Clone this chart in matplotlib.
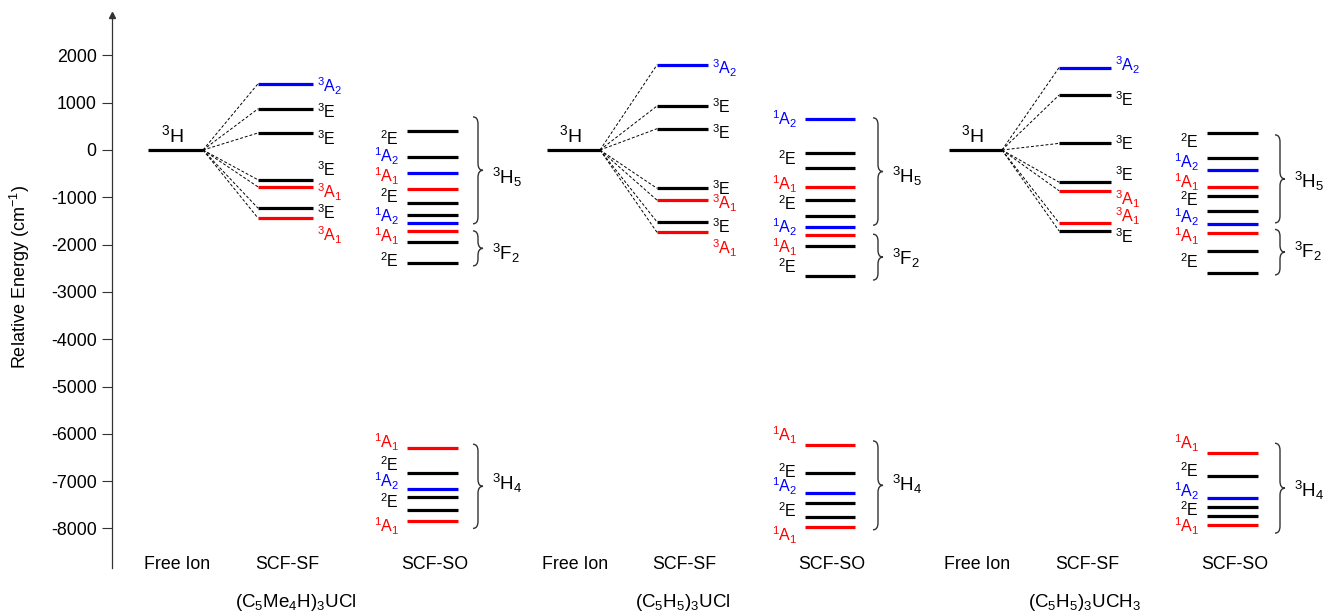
import numpy as np
import matplotlib
matplotlib.use("Agg")
import matplotlib.pyplot as plt
from matplotlib.path import Path
from matplotlib.patches import PathPatch

plt.rcParams['font.family'] = 'Liberation Sans'
plt.rcParams['mathtext.fontset'] = 'custom'
plt.rcParams['mathtext.rm'] = 'Liberation Sans'
plt.rcParams['mathtext.it'] = 'Liberation Sans:italic'
plt.rcParams['mathtext.bf'] = 'Liberation Sans:bold'
plt.rcParams['axes.unicode_minus'] = False

# ---- data (cm-1) ----
compounds = [r'(C$_5$Me$_4$H)$_3$UCl', r'(C$_5$H$_5$)$_3$UCl', r'(C$_5$H$_5$)$_3$UCH$_3$']
columns = ['Free Ion', 'SCF-SF', 'SCF-SO']

# spin-free states
sf_energy = [
    [1400, 870, 360, -630, -780, -1230, -1440],
    [1800, 930, 450, -810, -1060, -1520, -1740],
    [1740, 1160, 140, -680, -860, -1540, -1710],
]
sf_sym = [
    ['A2', 'E', 'E', 'E', 'A1', 'E', 'A1'],
    ['A2', 'E', 'E', 'E', 'A1', 'E', 'A1'],
    ['A2', 'E', 'E', 'E', 'A1', 'A1', 'E'],
]
sf_label_y = [
    [1340, 810, 250, -420, -900, -1330, -1800],
    [1730, 910, 360, -820, -1130, -1620, -2070],
    [1800, 1070, 140, -520, -1050, -1410, -1840],
]

# spin-orbit states (3H5 + 3F2 block)
so_energy = [
    [400, -140, -490, -830, -1110, -1370, -1550, -1720, -1940, -2380],
    [650, -60, -380, -790, -1060, -1390, -1630, -1800, -2020, -2670],
    [350, -175, -420, -775, -970, -1300, -1570, -1750, -2130, -2590],
]
so_sym = [
    ['E', 'E', 'A2', 'A1', 'E', 'E', 'A2', 'A1', 'E', 'E'],
    ['A2', 'E', 'E', 'A1', 'E', 'E', 'A2', 'A1', 'E', 'E'],
    ['E', 'E', 'A2', 'A1', 'E', 'E', 'A2', 'A1', 'E', 'E'],
]
so_labels = [
    ['2E', '1A2', '1A1', '2E', '1A2', '1A1', '2E'],
    ['1A2', '2E', '1A1', '2E', '1A2', '1A1', '2E'],
    ['2E', '1A2', '1A1', '2E', '1A2', '1A1', '2E'],
]
so_label_y = [
    [250, -140, -560, -990, -1410, -1830, -2330],
    [655, -190, -720, -1140, -1630, -2050, -2470],
    [175, -270, -690, -1040, -1420, -1830, -2360],
]

# spin-orbit states (3H4 block)
h4_energy = [
    [-6300, -6820, -7160, -7330, -7620, -7840],
    [-6240, -6830, -7250, -7470, -7750, -7970],
    [-6400, -6890, -7350, -7540, -7740, -7935],
]
h4_sym = ['A1', 'E', 'A2', 'E', 'E', 'A1']
h4_labels = ['1A1', '2E', '1A2', '2E', '1A1']
h4_label_y = [
    [-6170, -6660, -7010, -7440, -7960],
    [-6030, -6800, -7120, -7630, -8140],
    [-6200, -6770, -7220, -7610, -7960],
]

# braces: (top, bottom, label y, label)
braces = [
    [(700, -1560, -590, '3H5'), (-1710, -2450, -2180, '3F2'), (-6220, -8000, -7040, '3H4')],
    [(680, -1590, -550, '3H5'), (-1780, -2750, -2300, '3F2'), (-6150, -8030, -7080, '3H4')],
    [(320, -1540, -670, '3H5'), (-1680, -2640, -2150, '3F2'), (-6200, -8100, -7190, '3H4')],
]

# ---- layout ----
free_x = [(148, 203), (547, 600), (949, 1002)]
sf_x = [(258, 313), (657, 708), (1059, 1111)]
so_x = [(407, 458), (805, 855), (1207, 1258)]
brace_x = [473, 873, 1275]
compound_x = [296, 683, 1085]

colmap = {'A1': '#ff0000', 'A2': '#0000ff', 'E': 'black'}
px = 1000 / 47.3  # energy units per pixel


def term(s):
    # '3A2' -> ^3A_2
    sup, body = s[0], s[1:]
    if len(body) > 1 and body[-1].isdigit():
        return r'$^{%s}$%s$_{%s}$' % (sup, body[:-1], body[-1])
    return r'$^{%s}$%s' % (sup, body)


def label_color(s):
    return colmap['E'] if s.endswith('E') else colmap[s[1:]]


def brace(ax, x, ytop, ybot, w=10):
    ym = (ytop + ybot) / 2
    r = 7 * px
    xm = x + w / 2
    verts = [(x, ytop), (xm, ytop), (xm, ytop - r), (xm, ym + r),
             (xm, ym), (x + w, ym), (xm, ym), (xm, ym - r),
             (xm, ybot + r), (xm, ybot), (x, ybot)]
    codes = [Path.MOVETO, Path.CURVE3, Path.CURVE3, Path.LINETO,
             Path.CURVE3, Path.CURVE3, Path.CURVE3, Path.CURVE3,
             Path.LINETO, Path.CURVE3, Path.CURVE3]
    ax.add_patch(PathPatch(Path(verts, codes), fc='none', ec='#333333', lw=1.0))


fig = plt.figure(figsize=(13.24, 6.13), dpi=100)
ax = fig.add_axes([112 / 1324, 45 / 613, 1212 / 1324, 553 / 613])
ax.set_xlim(112, 1324)
ax.set_ylim(-8837, 2854)

lw = 2.3
fs_lab = 11.5
for i in range(3):
    # free ion
    ax.hlines(0, *free_x[i], color='black', lw=lw)
    ax.text(sum(free_x[i]) / 2 - 3, 320, term('3H'), ha='center', va='center', fontsize=14)
    # spin-free
    for e, s in zip(sf_energy[i], sf_sym[i]):
        ax.hlines(e, *sf_x[i], color=colmap[s], lw=lw)
        ax.plot([free_x[i][1], sf_x[i][0]], [0, e], color='black', lw=0.7,
                ls=(0, (3, 2)))
    for e, s in zip(sf_label_y[i], sf_sym[i]):
        ax.text(sf_x[i][1] + 4, e, term('3' + s), color=colmap[s],
                ha='left', va='center', fontsize=fs_lab)
    # spin-orbit
    for e, s in zip(so_energy[i], so_sym[i]):
        ax.hlines(e, *so_x[i], color=colmap[s], lw=lw)
    for e, s in zip(so_label_y[i], so_labels[i]):
        ax.text(so_x[i][0] - 8, e, term(s), color=label_color(s),
                ha='right', va='center', fontsize=fs_lab)
    for e, s in zip(h4_energy[i], h4_sym):
        ax.hlines(e, *so_x[i], color=colmap[s], lw=lw)
    for e, s in zip(h4_label_y[i], h4_labels):
        ax.text(so_x[i][0] - 8, e, term(s), color=label_color(s),
                ha='right', va='center', fontsize=fs_lab)
    for top, bot, ly, name in braces[i]:
        brace(ax, brace_x[i], top, bot)
        ax.text(brace_x[i] + 19, ly, term(name), ha='left', va='center', fontsize=13.5)
    # column and compound labels
    for xs, name in zip([free_x[i], sf_x[i], so_x[i]], columns):
        ax.text(sum(xs) / 2 + 2, -8770, name, ha='center', va='center', fontsize=12.8)
    ax.text(compound_x[i], -0.063, compounds[i], transform=ax.get_xaxis_transform(),
            ha='center', va='center', fontsize=13.5)

ax.set_yticks(np.arange(-8000, 2001, 1000))
ax.tick_params(axis='y', direction='out', length=7, width=0.8, labelsize=12.8,
               color='#333333', pad=4)
ax.set_xticks([])
for side in ['top', 'right', 'bottom']:
    ax.spines[side].set_visible(False)
ax.spines['left'].set_color('#333333')
ax.spines['left'].set_linewidth(0.9)
ax.plot(0, 1, '^', transform=ax.transAxes, clip_on=False, ms=4, color='#333333')
ax.set_ylabel(r'Relative Energy (cm$^{-1}$)', fontsize=13)
ax.yaxis.set_label_coords(-0.066, 0.526)

fig.savefig('out.png', dpi=100)
